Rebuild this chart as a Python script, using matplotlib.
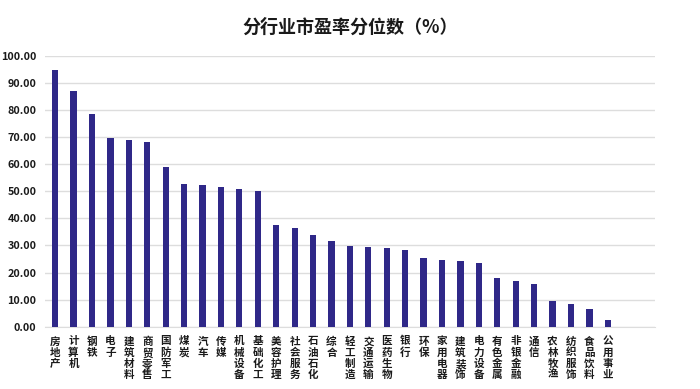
import matplotlib
matplotlib.use("Agg")
import matplotlib.pyplot as plt
from matplotlib.transforms import ScaledTranslation

plt.rcParams['font.family'] = ['Noto Sans CJK SC', 'DejaVu Sans']

categories = ["房地产", "计算机", "钢铁", "电子", "建筑材料", "商贸零售", "国防军工", "煤炭",
              "汽车", "传媒", "机械设备", "基础化工", "美容护理", "社会服务", "石油石化", "综合",
              "轻工制造", "交通运输", "医药生物", "银行", "环保", "家用电器", "建筑装饰", "电力设备",
              "有色金属", "非银金融", "通信", "农林牧渔", "纺织服饰", "食品饮料", "公用事业"]
values = [94.8, 86.8, 78.4, 69.8, 68.8, 68.2, 58.8, 52.6,
          52.4, 51.6, 50.9, 50.1, 37.4, 36.6, 34.0, 31.7,
          29.8, 29.6, 28.9, 28.3, 25.2, 24.6, 24.1, 23.5,
          18.0, 17.0, 15.6, 9.5, 8.3, 6.7, 2.6]
yticks = [0, 10, 20, 30, 40, 50, 60, 70, 80, 90, 100]

fig = plt.figure(figsize=(7.0, 3.89), dpi=100)
ax = fig.add_axes([0.064, 0.160, 0.872, 0.697])
x = list(range(len(categories)))
ax.bar(x, values, width=0.34, color='#2F2888', zorder=3)
ax.set_ylim(0, 100)
ax.set_xlim(-0.56, len(categories) - 1 + 2.57)
ax.set_yticks(yticks)
ax.set_yticklabels([f"{v:.2f}" for v in yticks], fontsize=7.8, color='#1A1A1A',
                   fontweight='bold')
ax.grid(axis='y', color='#DDDDDD', linewidth=1.0, zorder=0)
for s in ['top', 'right', 'left']:
    ax.spines[s].set_visible(False)
ax.spines['bottom'].set_color('#DDDDDD')
ax.tick_params(axis='y', length=0, pad=6)
ax.set_xticks([])

# vertical category labels, one character per line
pitch_pt = 8.0
start_pt = 7.0
for xi, name in zip(x, categories):
    for k, ch in enumerate(name):
        tr = ax.get_xaxis_transform() + ScaledTranslation(
            0, -(start_pt + k * pitch_pt) / 72, fig.dpi_scale_trans)
        ax.text(xi, 0, ch, transform=tr, ha='center', va='top', fontsize=7.6,
                color='#1A1A1A', fontweight='bold', clip_on=False)

fig.text(0.5, 1 - 27 / 389, "分行业市盈率分位数（%）", ha='center', va='center',
         fontsize=13, color='#1A1A1A', fontweight='bold')
fig.savefig("out.png", dpi=100)
